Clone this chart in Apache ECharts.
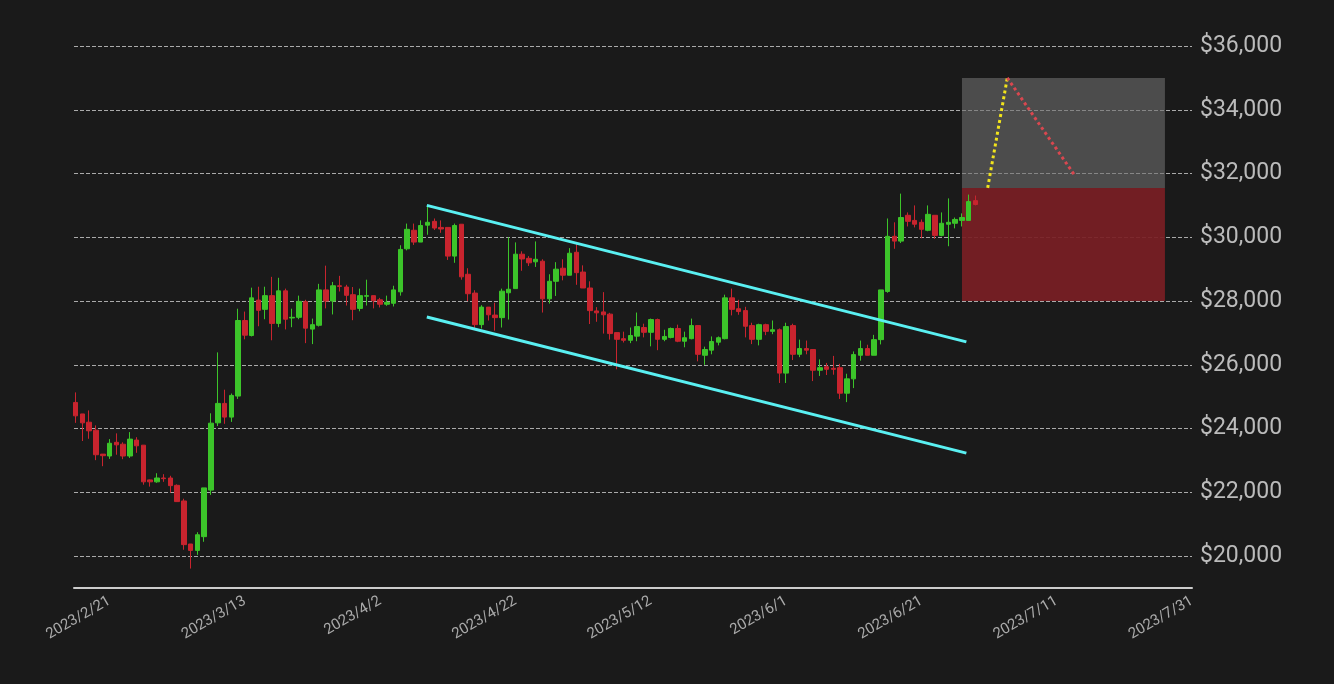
<!DOCTYPE html>
<html>
<head>
<meta charset="utf-8">
<script src="https://cdn.jsdelivr.net/npm/echarts@6/dist/echarts.min.js"></script>
<style>html,body{margin:0;background:#1a1a1a}#main{width:1334px;height:684px}</style>
</head>
<body>
<div id="main"></div>
<script>
// daily candles from 2023/2/16, [open, close, low, high]
var candles = [
[24820,24400,24180,25135],[24460,24180,23610,24460],[24200,23930,23680,24570],[23950,23180,23010,24100],
[23200,23150,22820,23200],[23140,23540,23050,23670],[23570,23490,23180,23850],[23510,23140,23040,23570],
[23140,23670,23080,23890],[23640,23460,23240,23730],[23480,22330,22240,23480],[22390,22330,22180,22400],
[22330,22450,22300,22600],[22450,22430,22330,22570],[22450,22210,21990,22520],[22220,21710,21700,22250],
[21730,20360,20200,21800],[20380,20180,19610,20380],[20180,20670,20040,20750],[20610,22140,20450,22140],
[22070,24170,21920,24480],[24180,24790,24080,26390],[24790,24360,24150,25220],[24360,25040,24210,25100],
[25020,27390,24930,27760],[27390,26930,26800,27670],[26920,28100,26890,28420],[28030,27710,27210,28450],
[27740,28170,27430,28450],[28170,27300,26770,28760],[27300,28320,27180,28730],[28320,27430,27110,28390],
[27470,27490,27180,27760],[27490,27990,27430,28170],[27980,27150,26680,28040],[27120,27260,26650,27450],
[27240,28350,27200,28540],[28350,28000,27770,29110],[28000,28480,27580,28600],[28480,28460,28300,28790],
[28440,28180,27860,28510],[28200,27740,27400,28440],[27770,28170,27680,28390],[28150,28170,27860,28670],
[28170,28010,27770,28170],[28040,27900,27800,28100],[27900,27960,27850,28170],[27930,28350,27830,28480],
[28290,29620,28170,29750],[29640,30250,29590,30430],[30220,29850,29760,30430],[29850,30370,29850,30530],
[30380,30470,30080,30970],[30500,30290,30230,30590],[30310,30260,30140,30530],[30310,29410,29290,30310],
[29410,30370,29200,30430],[30410,28760,28670,30410],[28840,28230,28000,29030],[28250,27260,27140,28340],
[27260,27810,27140,27870],[27810,27570,27390,27810],[27560,27480,27070,27950],[27480,28310,27170,28390],
[28260,28370,27420,30000],[28390,29470,28390,29840],[29470,29320,28950,29560],[29340,29200,29100,29410],
[29230,29310,29070,29870],[29250,28070,27640,29310],[28070,28620,27920,28840],[28620,29000,28160,29220],
[29030,28810,28650,29310],[28810,29500,28810,29660],[29530,28890,28510,29810],[28910,28410,28410,29120],
[28410,27700,27280,28620],[27690,27630,27350,27810],[27660,27570,26980,28280],[27590,26980,26790,27630],
[27010,26800,25860,27000],[26820,26770,26700,27040],[26770,26920,26680,27170],[26900,27200,26740,27640],
[27170,27020,26860,27290],[27020,27420,26580,27450],[27420,26800,26460,27450],[26800,26890,26740,27100],
[26860,27140,26830,27170],[27140,26740,26710,27260],[26740,26850,26550,27040],[26820,27230,26800,27450],
[27230,26330,26110,27230],[26300,26480,26000,26570],[26460,26730,26330,26890],[26710,26850,26610,26890],
[26820,28100,26800,28200],[28100,27740,27550,28390],[27760,27670,27570,28040],[27700,27210,26860,27820],
[27230,26800,26650,27320],[26800,27260,26610,27290],[27260,27050,26930,27290],[27050,27100,26960,27390],
[27100,25740,25430,27140],[25740,27200,25430,27320],[27230,26330,26150,27290],[26330,26510,26240,26790],
[26510,26460,26330,26760],[26480,25830,25490,26480],[25830,25910,25650,26170],[25940,25860,25680,26060],
[25890,25860,25690,26280],[25910,25110,24930,26030],[25110,25560,24830,25720],[25560,26320,25270,26420],
[26300,26510,26130,26760],[26510,26300,26300,26630],[26300,26790,26300,26940],[26790,28350,26640,28350],
[28300,30030,28260,30590],[30030,29880,29640,30470],[29880,30620,29820,31370],[30690,30500,30340,30780],
[30530,30410,30310,31000],[30470,30250,29970,30560],[30220,30720,30190,31000],[30690,30060,29950,30690],
[30060,30440,30030,30780],[30410,30470,29720,31220],[30440,30560,30280,30620],[30530,30620,30340,30750],
[30530,31120,30530,31340],[31150,31030,31000,31310]
];
var startDate = Date.UTC(2023, 1, 16);
var xLabelDays = [5,25,45,65,85,105,125,145,165]; // 2023/2/21 ... 2023/7/31
var yTicks = [20000,22000,24000,26000,28000,30000,32000,34000,36000];
var upperChannel = [[51.9,31000],[131.65,26720]];
var lowerChannel = [[51.9,27500],[131.65,23230]];
var targetUp = [[134.8,31550],[137.7,35000]];
var targetDown = [[137.7,35000],[147.8,31900]];
var boxDays = [131.0,161.0];
var boxProfit = [31550,35000];
var boxLoss = [28000,31550];

var data = candles.map(function(c, i){ return [i, c[0], c[1], c[2], c[3]]; });
function fmtDay(d){ var t=new Date(startDate+Math.round(d)*864e5); return t.getUTCFullYear()+'/'+(t.getUTCMonth()+1)+'/'+t.getUTCDate(); }

var chart = echarts.init(document.getElementById('main'));
var lineS = function(pts, color, type){ return {type:'line', data:pts, symbol:'none', silent:true, z:5,
  lineStyle:{color:color, width:3, type:type||'solid'}}; };
chart.setOption({
  backgroundColor:'#1a1a1a',
  animation:false,
  grid:{left:74, right:142, top:46, bottom:96},
  xAxis:{type:'value', min:-0.25, max:165,
    axisLine:{lineStyle:{color:'#cccccc', width:2}}, axisTick:{show:false}, splitLine:{show:false},
    axisLabel:{rotate:30, color:'#aaaaaa', fontSize:15, fontFamily:'Roboto', margin:12,
      customValues:xLabelDays, formatter:fmtDay}},
  yAxis:{type:'value', position:'right', min:19000, max:36000, interval:1000,
    axisLine:{show:false}, axisTick:{show:false}, splitLine:{show:false},
    axisLabel:{color:'#bbbbbb', fontSize:23, fontFamily:'Roboto', margin:8,
      formatter:function(v){ return yTicks.indexOf(v)>=0 ? '$'+v.toLocaleString('en-US') : ''; }}},
  series:[
    {type:'candlestick', data:data, encode:{x:0, y:[1,2,3,4]}, barWidth:5, z:3,
      itemStyle:{color:'#3cc42a', color0:'#c8242e', borderColor:'#3cc42a', borderColor0:'#c8242e', borderWidth:1},
      markLine:{silent:true, symbol:'none', label:{show:false}, z:1,
        lineStyle:{color:'#aaaaaa', type:'dashed', width:1},
        data:yTicks.map(function(v){ return {yAxis:v}; })},
      markArea:{silent:true, z:2, data:[
        [{xAxis:boxDays[0], yAxis:boxProfit[0], itemStyle:{color:'rgba(110,110,110,0.6)'}},{xAxis:boxDays[1], yAxis:boxProfit[1]}],
        [{xAxis:boxDays[0], yAxis:boxLoss[0], itemStyle:{color:'rgba(122,30,36,0.92)'}},{xAxis:boxDays[1], yAxis:boxLoss[1]}]
      ]}},
    lineS(upperChannel,'#5af0f2'),
    lineS(lowerChannel,'#5af0f2'),
    lineS(targetUp,'#f2e41c','dotted'),
    lineS(targetDown,'#d9474f','dotted')
  ]
});
</script>
</body>
</html>
